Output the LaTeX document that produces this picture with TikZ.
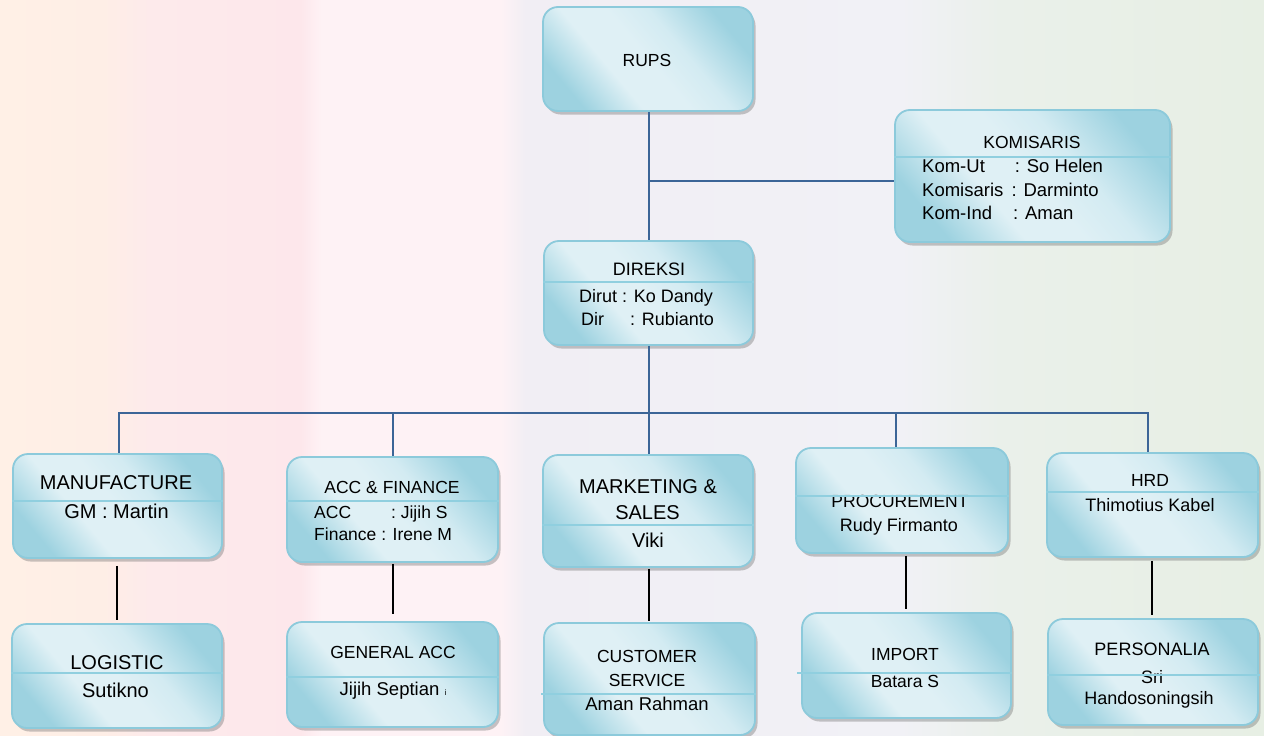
\documentclass[tikz,border=0pt]{standalone}
\usepackage{fontspec}
\setmainfont{Liberation Sans}
\usetikzlibrary{shadows,calc}
\definecolor{bgA}{HTML}{FFF0E6}
\definecolor{bgB}{HTML}{FEEEE6}
\definecolor{bgC}{HTML}{FDEAEB}
\definecolor{bgD}{HTML}{FDE7EB}
\definecolor{bgE}{HTML}{FEF2F5}
\definecolor{bgF}{HTML}{F1EEF4}
\definecolor{bgG}{HTML}{F1F1F6}
\definecolor{bgH}{HTML}{EAF0EA}
\definecolor{bgI}{HTML}{E7EFE4}
\definecolor{blight}{HTML}{DFF0F5}
\definecolor{blight2}{HTML}{D3EBF2}
\definecolor{bdark}{HTML}{9DD2E0}
\definecolor{bborder}{HTML}{8CCADB}
\definecolor{divc}{HTML}{90CFDF}
\definecolor{linkblue}{HTML}{3C6597}
\pgfdeclarehorizontalshading{bgshade}{100bp}{color(0bp)=(bgA); color(25bp)=(bgA); color(29bp)=(bgB); color(31bp)=(bgC); color(36.9bp)=(bgD); color(37.7bp)=(bgE); color(44.8bp)=(bgE); color(45.8bp)=(bgF); color(60.6bp)=(bgG); color(64.6bp)=(bgH); color(75bp)=(bgI); color(100bp)=(bgI)}
\pgfdeclarehorizontalshading{boxshade}{100bp}{color(0bp)=(bdark); color(25bp)=(bdark); color(39bp)=(blight); color(50bp)=(blight); color(60bp)=(blight2); color(75bp)=(bdark); color(100bp)=(bdark)}
\tikzset{
  box/.style={draw=bborder, line width=1.8pt, rounded corners=15pt, shading=boxshade, shading angle=40, inner sep=0pt,
    drop shadow={shadow xshift=2.5pt, shadow yshift=-3.5pt, fill=black!55, opacity=0.4}},
  divider/.style={draw=divc, line width=2pt},
  bl/.style={draw=linkblue, line width=2pt},
  bk/.style={draw=black, line width=2.3pt},
  tx/.style={inner sep=0pt, anchor=base, text=black},
  txl/.style={inner sep=0pt, anchor=base west, text=black},
  f17/.style={font=\fontsize{17.5}{20}\selectfont, yshift=-6.3pt},
  f18/.style={font=\fontsize{18}{21}\selectfont, yshift=-6.4pt},
  f185/.style={font=\fontsize{18.5}{21}\selectfont, yshift=-6.6pt},
  f20/.style={font=\fontsize{20}{23}\selectfont, yshift=-7.2pt},
}
\begin{document}
\begin{tikzpicture}[x=1pt,y=-1pt]
\useasboundingbox (0,0) rectangle (1264,736);
\shade[shading=bgshade] (0,0) rectangle (1264,736);

% boxes
\node[box, minimum width=210pt, minimum height=104pt] (rups) at (648,59) {};
\node[box, minimum width=275pt, minimum height=132pt] (kom) at (1032.5,176) {};
\node[box, minimum width=209pt, minimum height=104pt] (dir) at (648.5,293) {};
\node[box, minimum width=209pt, minimum height=104pt] (mfg) at (117.5,506) {};
\node[box, minimum width=211pt, minimum height=105pt] (acc) at (392.5,509.5) {};
\node[box, minimum width=210pt, minimum height=112pt] (mkt) at (648,511) {};
\node[box, minimum width=212pt, minimum height=105pt] (proc) at (902,500.5) {};
\node[box, minimum width=211pt, minimum height=104pt] (hrd) at (1152.5,505) {};
\node[box, minimum width=210pt, minimum height=104pt] (log) at (117,676) {};
\node[box, minimum width=211pt, minimum height=105pt] (gen) at (392.5,674.5) {};
\node[box, minimum width=211pt, minimum height=112pt] (cs) at (649.5,679) {};
\node[box, minimum width=209pt, minimum height=105pt] (imp) at (906.5,665.5) {};
\node[box, minimum width=210pt, minimum height=106pt] (pers) at (1153,672) {};

% blue connectors
\draw[bl] (rups.south -| 649,0) -- (dir.north -| 649,0);
\draw[bl] (649,181) -- (kom.west |- 0,181);
\draw[bl] (dir.south -| 649,0) -- (mkt.north -| 649,0);
\draw[bl] (mfg.north -| 119,0) -- (119,413) -- (1148,413) -- (hrd.north -| 1148,0);
\draw[bl] (393,413) -- (acc.north -| 393,0);
\draw[bl] (896,413) -- (proc.north -| 896,0);

% black connectors
\draw[bk, shorten <=7pt, shorten >=3pt] (mfg.south -| 117,0) -- (log.north -| 117,0);
\draw[bk, shorten <=1pt, shorten >=7pt] (acc.south -| 393,0) -- (gen.north -| 393,0);
\draw[bk, shorten <=1pt, shorten >=1pt] (mkt.south -| 649,0) -- (cs.north -| 649,0);
\draw[bk, shorten <=2pt, shorten >=3pt] (proc.south -| 906,0) -- (imp.north -| 906,0);
\draw[bk, shorten <=3pt, shorten >=3pt] (hrd.south -| 1152,0) -- (pers.north -| 1152,0);

% texts
\node[tx,f17] (t-rups) at (647,60) {RUPS};
\node[tx,f17] (t-kom) at (1032,142) {KOMISARIS};
\node[txl,f185] (t-kom1) at (922,166) {Kom-Ut\hspace{30pt}: So Helen};
\node[txl,f185] (t-kom2) at (922,190) {Komisaris\hspace{3pt} : Darminto};
\node[txl,f185] (t-kom3) at (922,213) {Kom-Ind\hspace{21pt}: Aman};
\node[tx,f18] (t-dir) at (649,269) {DIREKSI};
\node[txl,f18] (t-dir1) at (579,296) {Dirut : Ko Dandy};
\node[txl,f18] (t-dir2) at (581,319) {Dir\hspace{26pt}: Rubianto};
\node[tx,f20] (t-mfg) at (116,482) {MANUFACTURE};
\node[tx,f20] (t-mfg1) at (116.5,511) {GM : Martin};
\node[tx,f17] (t-acc) at (392,487) {ACC \& FINANCE};
\node[txl,f17] (t-acc1) at (314,512) {ACC\hspace{40pt}: Jijih S};
\node[txl,f17] (t-acc2) at (314,534.5) {Finance : Irene M};
\node[tx,f20] (t-mkt) at (648,486) {MARKETING \&};
\node[tx,f20] (t-mkt1) at (647.5,512) {SALES};
\node[tx,f20] (t-mkt2) at (648,540.5) {Viki};
\node[tx,f17] (t-proc) at (900,501) {PROCUREMENT};
\node[tx,f18] (t-proc1) at (899,525) {Rudy Firmanto};
\node[tx,f17] (t-hrd) at (1150,480) {HRD};
\node[tx,f18] (t-hrd1) at (1150,505) {Thimotius Kabel};
\node[tx,f20] (t-log) at (117,662) {LOGISTIC};
\node[tx,f20] (t-log1) at (115.5,690.5) {Sutikno};
\node[tx,f17] (t-gen) at (393,652) {GENERAL ACC};
\node[tx,f185] (t-gen1) at (393,689) {Jijih Septian {\fontsize{8}{8}\selectfont i}};
\node[tx,f17] (t-cs) at (647,656) {CUSTOMER};
\node[tx,f17] (t-cs1) at (647,680) {SERVICE};
\node[tx,f185] (t-cs2) at (647,704) {Aman Rahman};
\node[tx,f17] (t-imp) at (905,654) {IMPORT};
\node[tx,f17] (t-imp1) at (905,681) {Batara S};
\node[tx,f18] (t-pers) at (1152,649) {PERSONALIA};
\node[tx,f18] (t-pers1) at (1152,677) {Sri};
\node[tx,f18] (t-pers2) at (1149,698) {Handosoningsih};

% dividers
\draw[divider] (kom.west |- 0,157) -- (kom.east |- 0,157);
\draw[divider] (dir.west |- 0,282) -- (dir.east |- 0,282);
\draw[divider] (mfg.west |- 0,501) -- (mfg.east |- 0,501);
\draw[divider] (acc.west |- 0,501) -- (acc.east |- 0,501);
\draw[divider] (mkt.west |- 0,525) -- (mkt.east |- 0,525);
\draw[divider] (proc.west |- 0,496) -- (proc.east |- 0,496);
\draw[divider] (hrd.west |- 0,492) -- (hrd.east |- 0,492);
\draw[divider] (log.west |- 0,673) -- (log.east |- 0,673);
\draw[divider] (gen.west |- 0,677) -- (gen.east |- 0,677);
\draw[divider] (541,694) -- (cs.east |- 0,694);
\draw[divider] (797,673) -- (imp.east |- 0,673);
\draw[divider] (pers.west |- 0,675) -- (1260,675);
\end{tikzpicture}
\end{document}
